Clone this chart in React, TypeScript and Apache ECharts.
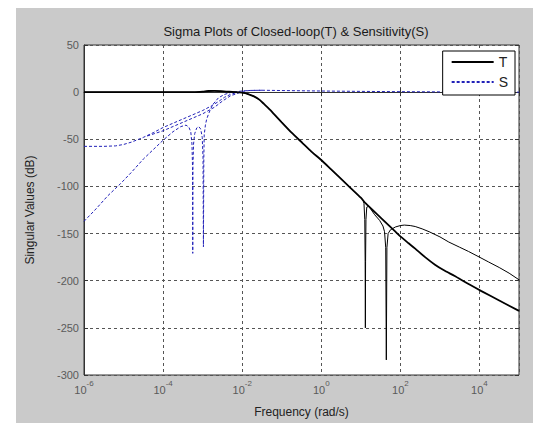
import React, { useEffect, useRef } from "react";
import * as echarts from "echarts";

// log10 of frequency (rad/s) and singular values (dB)
const T1_LOGW = [-6, -4, -3.2, -3.0, -2.85, -2.7, -2.55, -2.4, -2.25, -2.1, -2.0, -1.85, -1.7, -1.55, -1.45, -1.3, -1.2, -1.0, -0.75, -0.475, -0.25, 0, 0.25, 0.475, 0.75, 1.0, 1.125, 1.5, 1.875, 2.0, 2.2, 2.375, 2.625, 2.875, 3.125, 3.375, 3.7, 4.05, 4.5, 5.0];
const T1_DB = [0, 0, 0, 0.5, 1.2, 1.3, 1.0, 0.6, 0.2, -0.2, -0.5, -2, -4.5, -8.5, -12.5, -18.5, -23, -32, -43, -54, -63, -72, -82, -91, -102, -112, -118, -133, -148, -153, -160, -166, -175, -183, -189.5, -195, -203, -211, -221, -232];

const T2_LOGW = [-6, -4, -3.2, -3.0, -2.85, -2.7, -2.55, -2.4, -2.25, -2.1, -2.0, -1.85, -1.7, -1.55, -1.45, -1.3, -1.2, -1.0, -0.75, -0.475, -0.25, 0, 0.25, 0.475, 0.75, 1.0, 1.05, 1.08, 1.1, 1.11, 1.115, 1.12, 1.13, 1.15, 1.2, 1.25, 1.35, 1.475, 1.56, 1.6, 1.63, 1.645, 1.66, 1.69, 1.75, 1.875, 2.0, 2.1, 2.25, 2.375, 2.55, 2.725, 3.0, 3.225, 3.5, 3.725, 4.0, 4.225, 4.5, 4.75, 5.0];
const T2_DB = [0, 0, 0, 0.5, 1.2, 1.3, 1.0, 0.6, 0.2, -0.2, -0.5, -2, -4.5, -8.5, -12.5, -18.5, -23, -32, -43, -54, -63, -72, -82, -91, -102, -112, -114, -118, -135, -180, -250, -180, -135, -122, -121, -124, -130, -136, -142, -148, -165, -284, -165, -150, -146, -143, -141.5, -141, -141.5, -142.5, -145, -148, -153.5, -159, -164.5, -169, -175, -180, -186, -192, -199];

const S1_LOGW = [-6, -5.5, -5.2, -5.0, -4.8, -4.5, -4.25, -4.0, -3.75, -3.5, -3.25, -3.0, -2.775, -2.6, -2.45, -2.3, -2.15, -2.0, -1.8, -1.5, -1, 0, 1, 2, 3, 4, 5];
const S1_DB = [-57.5, -57.5, -57, -55.5, -53, -48, -43, -37.5, -33, -28.5, -24, -19.5, -14.5, -10, -5.5, -2.5, -0.5, 0.8, 1.8, 2, 1.7, 1.2, 0.8, 0.5, 0.3, 0.1, 0];

const S2_LOGW = [-6, -5.7, -5.4, -5.075, -4.8, -4.5, -4.0, -3.75, -3.55, -3.42, -3.35, -3.3, -3.27, -3.255, -3.25, -3.245, -3.23, -3.2, -3.15, -3.1, -3.05, -3.01, -2.99, -2.98, -2.97, -2.96, -2.93, -2.9, -2.85, -2.75, -2.6, -2.45, -2.3, -2.15, -2.0, -1.8, -1.5];
const S2_DB = [-137, -124, -110, -97, -85, -71, -51, -42, -36.5, -35, -37, -42, -55, -80, -171, -80, -55, -44, -38, -36.5, -39, -48, -70, -164, -70, -45, -35, -29, -23, -13.5, -6, -2.5, -0.5, 0.5, 1.2, 1.8, 2];

const S3_LOGW = [-4.4, -4.0, -3.5, -3.0, -2.7, -2.5, -2.3, -2.1, -2.0];
const S3_DB = [-46.5, -41, -32, -23, -16, -9.5, -4, -1, 0.5];

const X_MIN_EXP = -6;
const X_MAX_EXP = 5;
const Y_MIN = -300;
const Y_MAX = 50;

const TITLE = "Sigma Plots of Closed-loop(T) & Sensitivity(S)";
const X_NAME = "Frequency (rad/s)";
const Y_NAME = "Singular Values (dB)";

const FONT = "'Liberation Sans', Arial, Helvetica, sans-serif";

function pts(lw: number[], db: number[]) {
  return lw.map((l, i) => [Math.pow(10, l), db[i]]);
}

export default function App() {
  const ref = useRef<HTMLDivElement>(null);
  useEffect(() => {
    if (!ref.current) return;
    const chart = echarts.init(ref.current, undefined, { renderer: "svg" });
    const tColor = "#000000";
    const sColor = "#2121b8";
    const grid = "#555555";
    chart.setOption({
      animation: false,
      backgroundColor: "#cacaca",
      textStyle: { fontFamily: FONT },
      title: {
        text: TITLE,
        left: 275,
        top: 12,
        textAlign: "center",
        textStyle: { fontSize: 13, fontWeight: "normal", color: "#1a1a1a", fontFamily: FONT },
      },
      legend: {
        data: ["T", "S"],
        orient: "vertical",
        right: 18,
        top: 43,
        itemWidth: 42,
        itemHeight: 14,
        itemGap: 6,
        padding: [4, 7, 6, 8],
        backgroundColor: "#ffffff",
        borderColor: "#000000",
        borderWidth: 1,
        borderRadius: 0,
        itemStyle: { opacity: 0 },
        textStyle: { fontSize: 14, color: "#222", fontFamily: FONT, padding: [0, 0, 0, 0] },
        selectedMode: false,
      },
      grid: {
        left: 62,
        right: 14,
        top: 37,
        bottom: 43,
        show: true,
        backgroundColor: "#ffffff",
        borderColor: "#333",
        borderWidth: 1,
      },
      xAxis: [
        {
          type: "log",
          logBase: 10,
          min: Math.pow(10, X_MIN_EXP),
          max: Math.pow(10, X_MAX_EXP),
          interval: 2,
          name: X_NAME,
          nameLocation: "middle",
          nameGap: 31,
          nameTextStyle: { fontSize: 12, color: "#222", fontFamily: FONT },
          axisLine: { show: true, lineStyle: { color: "#333", width: 1 } },
          axisTick: { show: true, inside: true, length: 4, lineStyle: { color: "#333" } },
          minorTick: { show: false },
          splitLine: { show: true, lineStyle: { color: grid, type: [3, 3], width: 1 } },
          axisLabel: {
            margin: 4,
            formatter: (v: number) => {
              const e = Math.round(Math.log10(v));
              if (e > 4) return "";
              return `{b|10}{s|${e}}`;
            },
            rich: {
              b: { fontSize: 11, color: "#5a5a5a", fontFamily: FONT, verticalAlign: "bottom", lineHeight: 16 },
              s: { fontSize: 8, color: "#5a5a5a", fontFamily: FONT, verticalAlign: "top", lineHeight: 16 },
            },
          },
        },
        {
          type: "log",
          logBase: 10,
          position: "top",
          min: Math.pow(10, X_MIN_EXP),
          max: Math.pow(10, X_MAX_EXP),
          interval: 2,
          axisLine: { show: false },
          axisTick: { show: true, inside: true, length: 4, lineStyle: { color: "#333" } },
          axisLabel: { show: false },
          splitLine: { show: false },
        },
      ],
      yAxis: [
        {
          type: "value",
          min: Y_MIN,
          max: Y_MAX,
          interval: 50,
          name: Y_NAME,
          nameLocation: "middle",
          nameGap: 48,
          nameTextStyle: { fontSize: 12, color: "#222", fontFamily: FONT },
          axisLine: { show: true, lineStyle: { color: "#333", width: 1 } },
          axisTick: { show: true, inside: true, length: 4, lineStyle: { color: "#333" } },
          splitLine: { show: true, lineStyle: { color: grid, type: [3, 3], width: 1 } },
          axisLabel: { fontSize: 11, color: "#5a5a5a", margin: 5, fontFamily: FONT },
        },
        {
          type: "value",
          position: "right",
          min: Y_MIN,
          max: Y_MAX,
          interval: 50,
          axisLine: { show: false },
          axisTick: { show: true, inside: true, length: 4, lineStyle: { color: "#333" } },
          axisLabel: { show: false },
          splitLine: { show: false },
        },
      ],
      series: [
        {
          name: "T",
          type: "line",
          data: pts(T1_LOGW, T1_DB),
          symbol: "none",
          smooth: 0.2,
          lineStyle: { color: tColor, width: 1.8 },
          itemStyle: { color: tColor },
          z: 5,
        },
        {
          name: "S",
          type: "line",
          data: pts(S1_LOGW, S1_DB),
          symbol: "none",
          lineStyle: { color: sColor, width: 1, type: [3, 2] },
          itemStyle: { color: sColor },
          z: 3,
        },
        {
          name: "T",
          type: "line",
          data: pts(T2_LOGW, T2_DB),
          symbol: "none",
          lineStyle: { color: tColor, width: 1 },
          itemStyle: { color: tColor },
          z: 4,
        },
        {
          name: "S",
          type: "line",
          data: pts(S2_LOGW, S2_DB),
          symbol: "none",
          lineStyle: { color: sColor, width: 1, type: [3, 2] },
          itemStyle: { color: sColor },
          z: 3,
        },
        {
          name: "S",
          type: "line",
          data: pts(S3_LOGW, S3_DB),
          symbol: "none",
          lineStyle: { color: sColor, width: 1, type: [3, 2] },
          itemStyle: { color: sColor },
          z: 3,
        },
      ],
    });
    return () => chart.dispose();
  }, []);
  return (
    <div
      ref={ref}
      style={{ position: "absolute", left: 16, top: 8, width: 517, height: 415 }}
    />
  );
}
